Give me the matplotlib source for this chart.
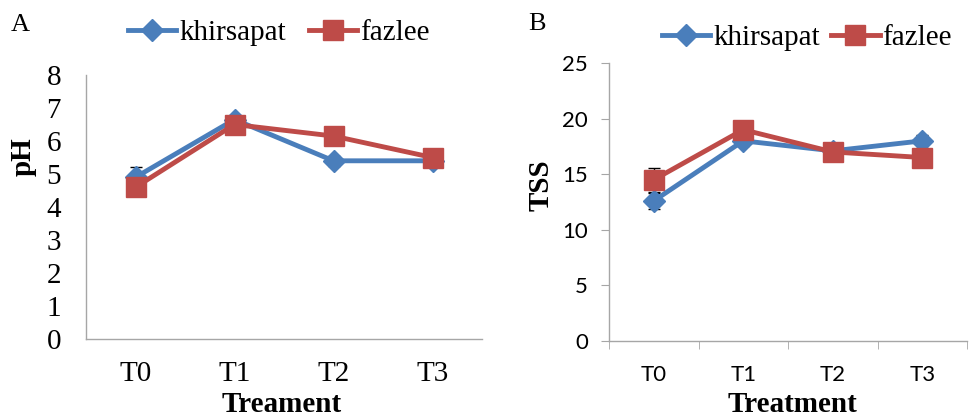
import matplotlib
matplotlib.use("Agg")
import matplotlib.pyplot as plt
from matplotlib.ticker import FixedLocator

treatments = ["T0", "T1", "T2", "T3"]
series_names = ["khirsapat", "fazlee"]

ph_khirsapat = [4.9, 6.65, 5.4, 5.4]
ph_fazlee = [4.6, 6.5, 6.15, 5.5]
ph_khirsapat_err = [0.3, 0.1, 0.15, 0.1]
ph_fazlee_err = [0.2, 0.1, 0.1, 0.1]

tss_khirsapat = [12.6, 18.0, 17.1, 18.0]
tss_fazlee = [14.5, 19.0, 17.0, 16.5]
tss_khirsapat_err = [0.7, 0.5, 0.5, 0.5]
tss_fazlee_err = [1.1, 0.5, 0.6, 0.5]

BLUE = "#4A7EBB"
RED = "#BE4B48"
GRAY = "#A6A6A6"
SERIF = "Liberation Serif"
SANS = "Lato"

fig = plt.figure(figsize=(9.69, 4.19), dpi=100)


def draw_panel(ax, ys, errs):
    x = list(range(len(treatments)))
    styles = [(BLUE, "D", 11), (RED, "s", 14)]
    handles = []
    for y, e, (c, m, ms), name in zip(ys, errs, styles, series_names):
        ax.errorbar(x, y, yerr=e, fmt="none", ecolor="black", elinewidth=1,
                    capsize=4, capthick=1, zorder=1)
        h, = ax.plot(x, y, color=c, lw=3.5, marker=m, markersize=ms,
                     markerfacecolor=c, markeredgecolor=c, label=name, zorder=2)
        handles.append(h)
    ax.set_xlim(-0.5, 3.5)
    ax.set_xticks(x)
    ax.set_xticklabels(treatments)
    for s in ["top", "right"]:
        ax.spines[s].set_visible(False)
    for s in ["left", "bottom"]:
        ax.spines[s].set_color(GRAY)
        ax.spines[s].set_linewidth(1)
    return handles


# panel A
axA = fig.add_axes([86 / 969, 1 - 339 / 419, 396 / 969, 264 / 419])
hA = draw_panel(axA, [ph_khirsapat, ph_fazlee], [ph_khirsapat_err, ph_fazlee_err])
axA.set_ylim(0, 8)
axA.set_yticks(range(0, 9))
axA.tick_params(axis="both", length=0, labelsize=21)
axA.tick_params(axis="y", pad=18)
axA.tick_params(axis="x", pad=16)
for lbl in axA.get_xticklabels() + axA.get_yticklabels():
    lbl.set_fontfamily(SERIF)
axA.legend(handles=hA, loc="center", bbox_to_anchor=(279 / 969, 1 - 33 / 419),
           bbox_transform=fig.transFigure, ncol=2, frameon=False,
           prop={"family": SERIF, "size": 21}, handlelength=1.65,
           handletextpad=0.1, columnspacing=0.8, borderaxespad=0)

# panel B
axB = fig.add_axes([609 / 969, 1 - 341 / 419, 358 / 969, 278 / 419])
hB = draw_panel(axB, [tss_khirsapat, tss_fazlee], [tss_khirsapat_err, tss_fazlee_err])
axB.set_ylim(0, 25)
axB.set_yticks(range(0, 26, 5))
axB.xaxis.set_minor_locator(FixedLocator([-0.5, 0.5, 1.5, 2.5, 3.5]))
axB.tick_params(axis="x", which="major", length=0, pad=17, labelsize=16)
axB.tick_params(axis="x", which="minor", length=6, direction="out", color=GRAY)
axB.tick_params(axis="y", length=6, direction="out", color=GRAY, labelsize=16, pad=9)
for lbl in axB.get_xticklabels() + axB.get_yticklabels():
    lbl.set_fontfamily(SANS)
axB.legend(handles=hB, loc="center", bbox_to_anchor=(807 / 969, 1 - 38 / 419),
           bbox_transform=fig.transFigure, ncol=2, frameon=False,
           prop={"family": SERIF, "size": 21}, handlelength=1.65,
           handletextpad=0.1, columnspacing=0.4, borderaxespad=0)

# axis titles and panel letters
fig.text(23 / 969, 1 - 157 / 419, "pH", rotation=90, ha="center", va="center",
         family=SERIF, fontweight="bold", fontsize=21)
fig.text(541 / 969, 1 - 185 / 419, "TSS", rotation=90, ha="center", va="center",
         family=SERIF, fontweight="bold", fontsize=21)
fig.text(282 / 969, 1 - 418 / 419, "Treament", ha="center", va="bottom",
         family=SERIF, fontweight="bold", fontsize=21)
fig.text(792 / 969, 1 - 418 / 419, "Treatment", ha="center", va="bottom",
         family=SERIF, fontweight="bold", fontsize=21)
fig.text(20 / 969, 1 - 25 / 419, "A", ha="center", va="center",
         family=SERIF, fontsize=19)
fig.text(537 / 969, 1 - 24 / 419, "B", ha="center", va="center",
         family=SERIF, fontsize=19)

fig.savefig("out.png", dpi=100)
